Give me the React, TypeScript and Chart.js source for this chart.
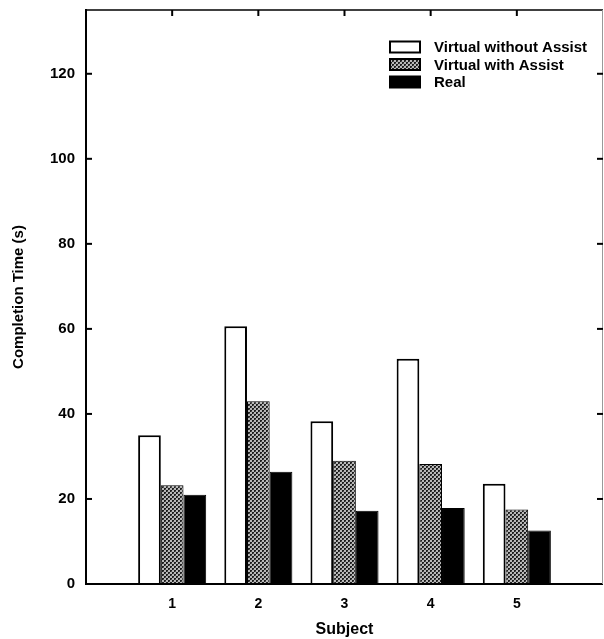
import React, { useEffect, useRef } from "react";
import { Chart, registerables } from "chart.js";

Chart.register(...registerables);

const subjects = ["1", "2", "3", "4", "5"];
const seriesNames = ["Virtual without Assist", "Virtual with Assist", "Real"];
const withoutAssist = [35, 60.6, 38.3, 53, 23.6];
const withAssist = [23.2, 43, 29, 28.2, 17.5];
const real = [21, 26.4, 17.2, 17.9, 12.6];
const yTicks = [0, 20, 40, 60, 80, 100, 120];

const FONT = "'Liberation Sans', Arial, Helvetica, sans-serif";

function makePattern(): CanvasPattern | string {
  const c = document.createElement("canvas");
  c.width = 4;
  c.height = 4;
  const g = c.getContext("2d");
  if (!g) return "#777";
  g.fillStyle = "#b8b8b8";
  g.fillRect(0, 0, 4, 4);
  g.fillStyle = "#1e1e1e";
  g.fillRect(0, 0, 2, 2);
  g.fillRect(2, 2, 2, 2);
  g.fillStyle = "#555";
  g.fillRect(1, 1, 1, 1);
  g.fillRect(3, 3, 1, 1);
  const p = g.createPattern(c, "repeat");
  return p || "#777";
}

export default function App() {
  const ref = useRef<HTMLCanvasElement | null>(null);

  useEffect(() => {
    const canvas = ref.current;
    if (!canvas) return;
    const pattern = makePattern();
    const pad = (arr: number[]) => [null, ...arr, null];
    const fills: any[] = ["#ffffff", pattern, "#000000"];

    const framePlugin = {
      id: "frameLegend",
      afterDraw(chart: any) {
        const { ctx, chartArea, scales } = chart;
        const { left, right, top, bottom } = chartArea;
        const x = scales.x;
        const y = scales.y;
        ctx.save();
        ctx.strokeStyle = "#000";
        ctx.lineCap = "butt";
        ctx.lineWidth = 2;
        ctx.beginPath();
        ctx.moveTo(left, top - 1);
        ctx.lineTo(left, bottom + 1);
        ctx.stroke();
        ctx.beginPath();
        ctx.moveTo(left, bottom);
        ctx.lineTo(right, bottom);
        ctx.stroke();
        ctx.lineWidth = 1.5;
        ctx.beginPath();
        ctx.moveTo(left, top);
        ctx.lineTo(right, top);
        ctx.stroke();
        ctx.lineWidth = 1;
        ctx.strokeStyle = "#999";
        ctx.beginPath();
        ctx.moveTo(right - 0.5, top);
        ctx.lineTo(right - 0.5, bottom);
        ctx.stroke();
        ctx.strokeStyle = "#000";
        ctx.lineWidth = 2;
        yTicks.forEach((v) => {
          if (v === 0) return;
          const py = y.getPixelForValue(v);
          ctx.beginPath();
          ctx.moveTo(left, py);
          ctx.lineTo(left + 6, py);
          ctx.stroke();
          ctx.beginPath();
          ctx.moveTo(right, py);
          ctx.lineTo(right - 6, py);
          ctx.stroke();
        });
        subjects.forEach((_, i) => {
          const px = x.getPixelForValue(i + 1);
          ctx.beginPath();
          ctx.moveTo(px, top);
          ctx.lineTo(px, top + 6);
          ctx.stroke();
        });
        const boxX = 390;
        const boxW = 30;
        const boxH = 11;
        const rowY = [47, 64.5, 82];
        ctx.font = `bold 15px ${FONT}`;
        ctx.textBaseline = "middle";
        ctx.textAlign = "left";
        chart.data.datasets.forEach((ds: any, i: number) => {
          const cy = rowY[i];
          ctx.fillStyle = ds.backgroundColor;
          ctx.fillRect(boxX, cy - boxH / 2, boxW, boxH);
          ctx.lineWidth = 2;
          ctx.strokeStyle = "#000";
          ctx.strokeRect(boxX, cy - boxH / 2, boxW, boxH);
          ctx.fillStyle = "#000";
          ctx.fillText(ds.label, 434, cy + 1);
        });
        ctx.restore();
      },
    };

    const chart = new Chart(canvas, {
      type: "bar",
      data: {
        labels: ["", ...subjects, ""],
        datasets: [withoutAssist, withAssist, real].map((arr, i) => ({
          label: seriesNames[i],
          data: pad(arr) as any,
          backgroundColor: fills[i],
          borderColor: "#000",
          borderWidth: i === 0 ? 2 : 1,
          categoryPercentage: 0.79,
          barPercentage: 1.0,
        })),
      },
      options: {
        responsive: false,
        animation: false,
        events: [],
        layout: { padding: { top: 10, right: 1, left: 0, bottom: 0 } },
        plugins: {
          legend: { display: false },
          tooltip: { enabled: false },
        },
        scales: {
          x: {
            type: "category",
            offset: false,
            grid: { display: false, drawTicks: false },
            border: { display: false },
            ticks: {
              color: "#000",
              font: { family: FONT, size: 14, weight: "bold" },
              padding: 12,
              maxRotation: 0,
              autoSkip: false,
            },
            title: {
              display: true,
              text: "Subject",
              color: "#000",
              font: { family: FONT, size: 16, weight: "bold" },
              padding: { top: 4, bottom: 0 },
            },
            afterFit: (s: any) => {
              s.height = 55;
              s.paddingLeft = 0;
              s.paddingRight = 0;
            },
          },
          y: {
            min: 0,
            max: 135,
            grid: { display: false, drawTicks: false },
            border: { display: false },
            afterBuildTicks: (s: any) => {
              s.ticks = yTicks.map((v) => ({ value: v }));
            },
            ticks: {
              color: "#000",
              font: { family: FONT, size: 15, weight: "bold" },
              padding: 11,
            },
            title: {
              display: true,
              text: "Completion Time (s)",
              color: "#000",
              font: { family: FONT, size: 15, weight: "bold" },
              padding: { top: 10, bottom: 4 },
            },
            afterFit: (s: any) => {
              s.width = 86;
              s.paddingTop = 0;
              s.paddingBottom = 0;
            },
          },
        },
      },
      plugins: [framePlugin],
    });

    return () => {
      chart.destroy();
    };
  }, []);

  return (
    <div style={{ position: "fixed", left: 0, top: 0, width: 604, height: 639, background: "#fff" }}>
      <canvas ref={ref} width={604} height={639} style={{ display: "block" }} />
    </div>
  );
}
